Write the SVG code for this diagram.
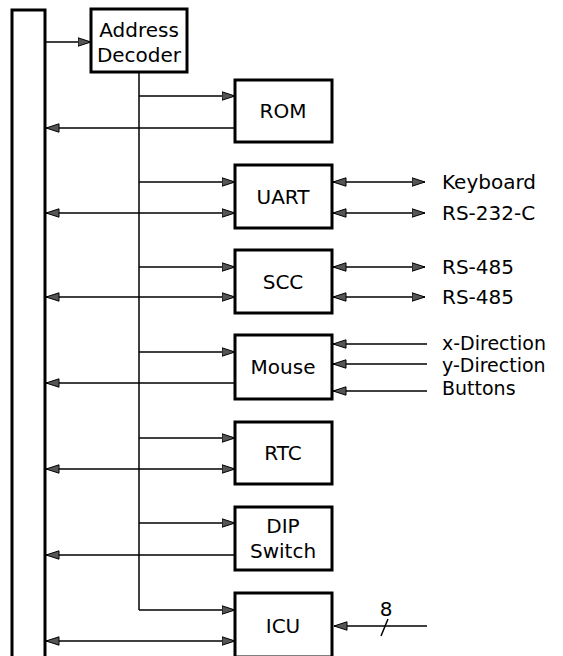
<svg xmlns="http://www.w3.org/2000/svg" width="563" height="656" viewBox="0 0 563 656">
<style>
.box{fill:#fff;stroke:#000;stroke-width:3}
.ln{fill:none;stroke:#000;stroke-width:1.5}
.t{font-family:"DejaVu Sans",sans-serif;font-size:20px;fill:#000}
.s{font-size:19px}
.c{text-anchor:middle}
</style>
<defs>
<marker id="ah" viewBox="0 0 14 10" refX="13.5" refY="5" markerWidth="14" markerHeight="10" markerUnits="userSpaceOnUse" orient="auto-start-reverse">
<path d="M0.5,0.8 L13.5,5 L0.5,9.2 z" fill="#555" stroke="#000" stroke-width="1"/>
</marker>
</defs>
<rect width="563" height="656" fill="#fff"/>
<g id="bus"><rect class="box" x="12" y="10" width="33" height="648"/></g>
<g id="connectors">
<line class="ln" x1="45" y1="42" x2="91" y2="42" marker-end="url(#ah)"/>
<line class="ln" x1="139" y1="72" x2="139" y2="610"/>
<line class="ln" x1="139" y1="96" x2="235" y2="96" marker-end="url(#ah)"/>
<line class="ln" x1="139" y1="182" x2="235" y2="182" marker-end="url(#ah)"/>
<line class="ln" x1="139" y1="267" x2="235" y2="267" marker-end="url(#ah)"/>
<line class="ln" x1="139" y1="352" x2="235" y2="352" marker-end="url(#ah)"/>
<line class="ln" x1="139" y1="438" x2="235" y2="438" marker-end="url(#ah)"/>
<line class="ln" x1="139" y1="523" x2="235" y2="523" marker-end="url(#ah)"/>
<line class="ln" x1="139" y1="610" x2="235" y2="610" marker-end="url(#ah)"/>
<line class="ln" x1="235" y1="128" x2="46" y2="128" marker-end="url(#ah)"/>
<line class="ln" x1="46" y1="213" x2="235" y2="213" marker-start="url(#ah)" marker-end="url(#ah)"/>
<line class="ln" x1="46" y1="297" x2="235" y2="297" marker-start="url(#ah)" marker-end="url(#ah)"/>
<line class="ln" x1="235" y1="383" x2="46" y2="383" marker-end="url(#ah)"/>
<line class="ln" x1="46" y1="469" x2="235" y2="469" marker-start="url(#ah)" marker-end="url(#ah)"/>
<line class="ln" x1="235" y1="555" x2="46" y2="555" marker-end="url(#ah)"/>
<line class="ln" x1="46" y1="641" x2="235" y2="641" marker-start="url(#ah)" marker-end="url(#ah)"/>
<line class="ln" x1="333" y1="182" x2="425" y2="182" marker-start="url(#ah)" marker-end="url(#ah)"/>
<line class="ln" x1="333" y1="213" x2="425" y2="213" marker-start="url(#ah)" marker-end="url(#ah)"/>
<line class="ln" x1="333" y1="267" x2="425" y2="267" marker-start="url(#ah)" marker-end="url(#ah)"/>
<line class="ln" x1="333" y1="297" x2="425" y2="297" marker-start="url(#ah)" marker-end="url(#ah)"/>
<line class="ln" x1="427" y1="344" x2="333" y2="344" marker-end="url(#ah)"/>
<line class="ln" x1="427" y1="364" x2="333" y2="364" marker-end="url(#ah)"/>
<line class="ln" x1="427" y1="391" x2="333" y2="391" marker-end="url(#ah)"/>
<line class="ln" x1="427" y1="626" x2="334" y2="626" marker-end="url(#ah)"/>
<line class="ln" x1="381" y1="636" x2="388" y2="619"/>
</g>
<g id="decoder"><rect class="box" x="91" y="9" width="96" height="63"/><text class="t c" x="139" y="37">Address</text><text class="t c" x="139" y="62">Decoder</text></g>
<g id="rom"><rect class="box" x="235" y="80" width="97" height="62"/><text class="t c" x="283" y="118">ROM</text></g>
<g id="uart"><rect class="box" x="235" y="165" width="97" height="63"/><text class="t c" x="283" y="204">UART</text></g>
<g id="scc"><rect class="box" x="235" y="250" width="97" height="63"/><text class="t c" x="283" y="289">SCC</text></g>
<g id="mouse"><rect class="box" x="235" y="335" width="97" height="64"/><text class="t c" x="283" y="374">Mouse</text></g>
<g id="rtc"><rect class="box" x="235" y="422" width="97" height="62"/><text class="t c" x="283" y="460">RTC</text></g>
<g id="dip"><rect class="box" x="235" y="507" width="97" height="63"/><text class="t c" x="283" y="533">DIP</text><text class="t c" x="283" y="558">Switch</text></g>
<g id="icu"><rect class="box" x="235" y="593" width="97" height="64"/><text class="t c" x="283" y="633">ICU</text></g>
<g id="labels">
<text class="t" x="442" y="189">Keyboard</text>
<text class="t" x="442" y="220">RS-232-C</text>
<text class="t" x="442" y="274">RS-485</text>
<text class="t" x="442" y="304">RS-485</text>
<text class="t s" x="442" y="350">x-Direction</text>
<text class="t s" x="442" y="372">y-Direction</text>
<text class="t s" x="442" y="395">Buttons</text>
<text class="t c" x="386" y="616">8</text>
</g>
</svg>
